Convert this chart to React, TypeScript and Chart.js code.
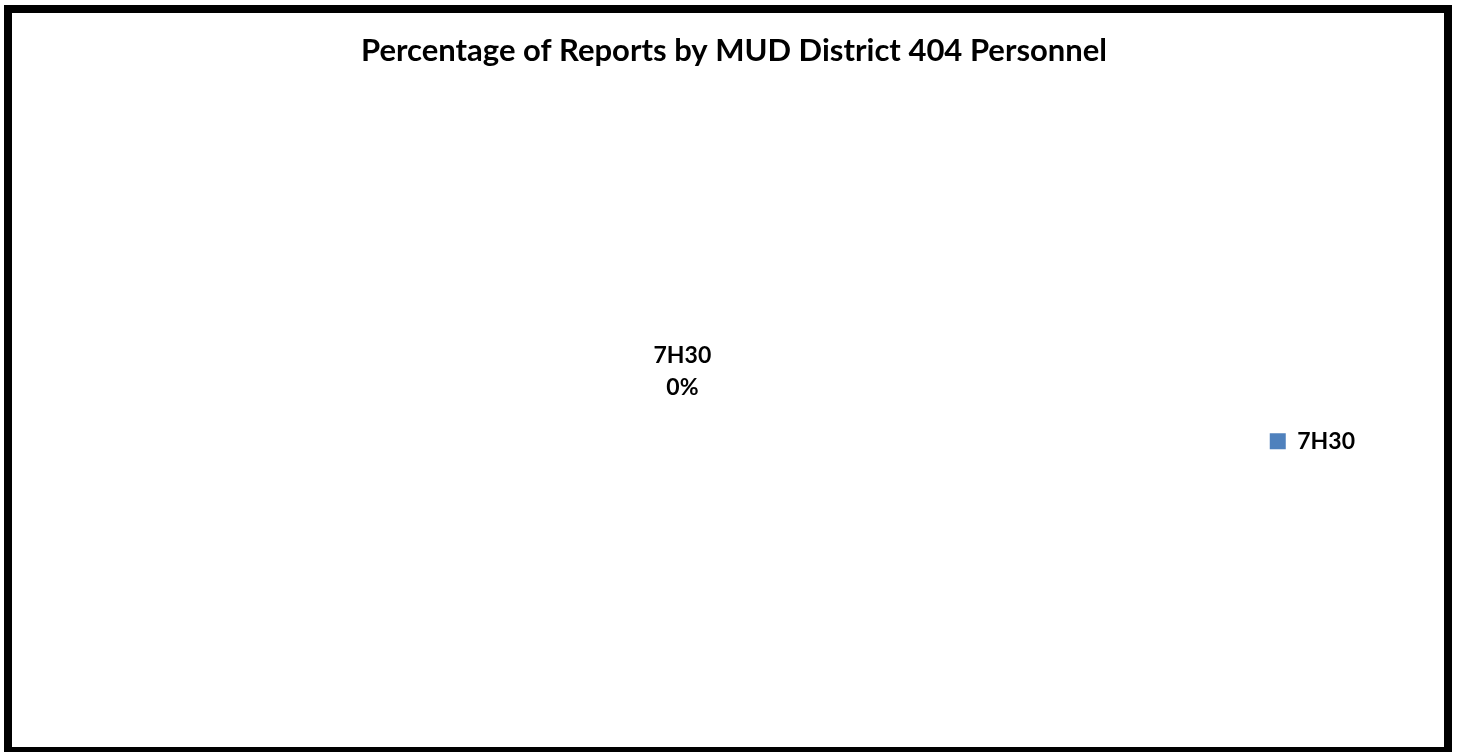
import React, { useEffect, useRef } from "react";
import { Chart, registerables } from "chart.js";

Chart.register(...registerables);

const categories: string[] = ["7H30"];
const values: number[] = [0];
const colors: string[] = ["#4F81BD"];
const chartTitle = "Percentage of Reports by MUD District 404 Personnel";
const FONT = "Lato, 'Open Sans', sans-serif";

const labelPlugin = {
  id: "pieDataLabels",
  afterDatasetsDraw(chart: any) {
    const ctx = chart.ctx;
    const meta = chart.getDatasetMeta(0);
    const data = chart.data.datasets[0].data as number[];
    const total = data.reduce((a, b) => a + b, 0);
    meta.data.forEach((arc: any, i: number) => {
      const pct = total > 0 ? Math.round((data[i] / total) * 100) : 0;
      const pos = data[i] > 0 ? arc.tooltipPosition() : { x: arc.x, y: arc.y };
      ctx.save();
      ctx.fillStyle = "#000";
      ctx.font = `bold 23px ${FONT}`;
      ctx.textAlign = "center";
      ctx.textBaseline = "middle";
      ctx.fillText(String(chart.data.labels[i]), pos.x + 1, pos.y - 17);
      ctx.fillText(`${pct}%`, pos.x + 1, pos.y + 15);
      ctx.restore();
    });
  },
};

export default function App() {
  const canvasRef = useRef<HTMLCanvasElement | null>(null);
  useEffect(() => {
    if (!canvasRef.current) return;
    const chart = new Chart(canvasRef.current, {
      type: "pie",
      data: {
        labels: categories,
        datasets: [
          {
            data: values,
            backgroundColor: colors,
            borderWidth: 0,
          },
        ],
      },
      options: {
        animation: false,
        responsive: true,
        maintainAspectRatio: false,
        layout: { padding: { left: 91, right: 79, top: 0, bottom: 106 } },
        plugins: {
          title: {
            display: true,
            text: chartTitle,
            color: "#000",
            font: { family: FONT, size: 31, weight: "bold", lineHeight: 1.2 },
            padding: { top: 19, bottom: 35 },
          },
          legend: {
            display: true,
            position: "right",
            title: {
              display: true,
              text: " ",
              font: { size: 12, lineHeight: 1.2 },
              padding: { top: 214, bottom: 0 },
            },
            labels: {
              boxWidth: 16,
              boxHeight: 16,
              padding: 10,
              color: "#000",
              font: { family: FONT, size: 23, weight: "bold" },
            },
          },
          tooltip: { enabled: false },
        },
      },
      plugins: [labelPlugin],
    });
    return () => chart.destroy();
  }, []);

  return (
    <div
      style={{
        position: "fixed",
        left: 4,
        top: 5,
        width: 1448,
        height: 750,
        border: "8px solid #000",
        boxSizing: "border-box",
        background: "#fff",
      }}
    >
      <div style={{ position: "relative", width: "100%", height: "100%" }}>
        <canvas ref={canvasRef} />
      </div>
    </div>
  );
}
